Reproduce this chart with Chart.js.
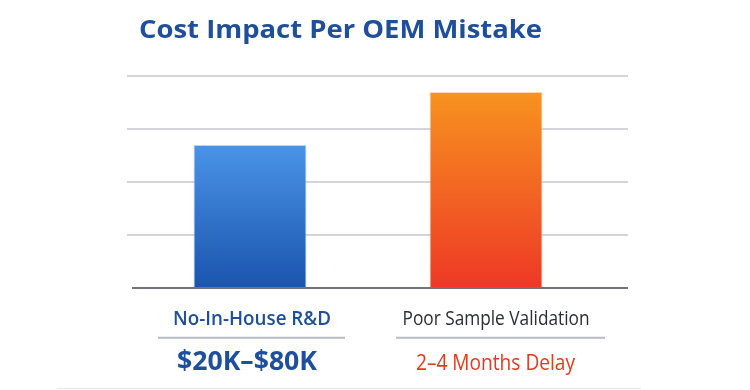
<!DOCTYPE html>
<html>
<head>
<meta charset="utf-8">
<script src="https://cdn.jsdelivr.net/npm/chart.js@4/dist/chart.umd.min.js"></script>
<style>
  html, body { margin: 0; padding: 0; background: #ffffff; }
  #wrap { width: 750px; height: 390px; position: relative; }
</style>
</head>
<body>
<div id="wrap"><canvas id="c" width="750" height="390"></canvas></div>
<script>
// ---- data ----
const chartTitle = 'Cost Impact Per OEM Mistake';
const categories = ['No-In-House R&D', 'Poor Sample Validation'];
const impactLabels = ['$20K–$80K', '2–4 Months Delay'];
const values = [2.7, 3.7];
const yMin = 0;
const yMax = 4;
const yStep = 1;

// ---- styles ----
const GRID = '#d4d5dc';
const BASE = '#70737f';
const BLUE_TXT = '#1f4f9b';
const RED_TXT = '#e03b1f';
const DARK_TXT = '#2b2c36';

function barGradient(ctx) {
  const chart = ctx.chart;
  const area = chart.chartArea;
  if (!area) return ctx.dataIndex === 0 ? '#2e6fcc' : '#f26522';
  const y = chart.scales.y;
  const top = y.getPixelForValue(ctx.raw);
  const bottom = y.getPixelForValue(0);
  const g = chart.ctx.createLinearGradient(0, top, 0, bottom);
  if (ctx.dataIndex === 0) {
    g.addColorStop(0, '#4a94e6');
    g.addColorStop(1, '#1a54ae');
  } else {
    g.addColorStop(0, '#f7931f');
    g.addColorStop(1, '#ee3826');
  }
  return g;
}

function drawFitted(ctx, text, cx, baseline, font, color, width) {
  ctx.save();
  ctx.font = font;
  ctx.fillStyle = color;
  ctx.textBaseline = 'alphabetic';
  ctx.textAlign = 'center';
  const w = ctx.measureText(text).width;
  const sx = width / w;
  ctx.translate(cx, baseline);
  ctx.scale(sx, 1);
  ctx.fillText(text, 0, 0);
  ctx.restore();
}

const labelPlugin = {
  id: 'labelPlugin',
  afterDraw(chart, args, opts) {
    const ctx = chart.ctx;
    const x = chart.scales.x;
    // title
    ctx.save();
    ctx.font = opts.titleFont;
    const tw = ctx.measureText(chartTitle).width;
    ctx.restore();
    drawFitted(ctx, chartTitle, opts.titleLeft + opts.titleWidth / 2, opts.titleBaseline,
      opts.titleFont, BLUE_TXT, opts.titleWidth);

    categories.forEach((cat, i) => {
      const cx = x.getPixelForValue(i);
      const s = opts.cats[i];
      drawFitted(ctx, cat, cx + s.dx1, opts.line1Baseline, s.font1, s.color1, s.w1);
      ctx.save();
      ctx.strokeStyle = '#b9bac3';
      ctx.lineWidth = 2;
      ctx.beginPath();
      ctx.moveTo(cx + s.sepL, opts.sepY);
      ctx.lineTo(cx + s.sepR, opts.sepY);
      ctx.stroke();
      ctx.restore();
      drawFitted(ctx, impactLabels[i], cx + s.dx2, opts.line2Baseline, s.font2, s.color2, s.w2);
    });

    // faint bottom rule
    ctx.save();
    ctx.strokeStyle = '#ececf1';
    ctx.lineWidth = 1.5;
    ctx.beginPath();
    ctx.moveTo(57, 388.5);
    ctx.lineTo(641, 388.5);
    ctx.stroke();
    ctx.restore();
  }
};

new Chart(document.getElementById('c'), {
  type: 'bar',
  data: {
    labels: categories,
    datasets: [{
      data: values,
      backgroundColor: barGradient,
      borderColor: ['rgba(140,190,245,0.6)', 'rgba(250,190,130,0.6)'],
      borderWidth: { top: 1, left: 1, right: 1, bottom: 0 },
      borderSkipped: 'bottom',
      categoryPercentage: 1,
      barPercentage: 0.479
    }]
  },
  options: {
    responsive: false,
    animation: false,
    events: [],
    layout: { padding: { left: 127, right: 122, top: 76, bottom: 102 } },
    plugins: {
      legend: { display: false },
      title: { display: false },
      tooltip: { enabled: false },
      labelPlugin: {
        titleFont: 'bold 25px "Open Sans"',
        titleLeft: 139,
        titleWidth: 403,
        titleBaseline: 37.7,
        line1Baseline: 325,
        line2Baseline: 370,
        sepY: 337.7,
        cats: [
          { dx1: 2, w1: 158, font1: '600 20px "Open Sans"', color1: BLUE_TXT,
            sepL: -92, sepR: 95,
            dx2: -3, w2: 140, font2: 'bold 26px "Open Sans"', color2: BLUE_TXT },
          { dx1: 10, w1: 187, font1: '400 20px "Open Sans"', color1: DARK_TXT,
            sepL: -90, sepR: 119,
            dx2: 9.5, w2: 159, font2: '500 21px "Open Sans"', color2: RED_TXT }
        ]
      }
    },
    scales: {
      x: {
        type: 'category',
        offset: true,
        grid: { display: false, drawTicks: false },
        border: { display: false },
        ticks: { display: false }
      },
      y: {
        type: 'linear',
        position: 'left',
        min: yMin,
        max: yMax,
        ticks: { display: false, stepSize: yStep },
        border: { display: false },
        grid: {
          drawTicks: true,
          tickLength: 5,
          lineWidth: 2,
          color: (c) => c.tick && c.tick.value === 0 ? BASE : GRID,
          tickColor: (c) => c.tick && c.tick.value === 0 ? 'rgba(0,0,0,0)' : GRID
        }
      },
      y2: {
        type: 'linear',
        position: 'right',
        min: yMin,
        max: yMax,
        ticks: { display: false, stepSize: yStep },
        border: { display: false },
        grid: {
          drawOnChartArea: false,
          drawTicks: true,
          tickLength: 24,
          lineWidth: 2,
          tickColor: (c) => c.tick && c.tick.value === 0 ? BASE : GRID
        }
      }
    }
  },
  plugins: [labelPlugin]
});
</script>
</body>
</html>
